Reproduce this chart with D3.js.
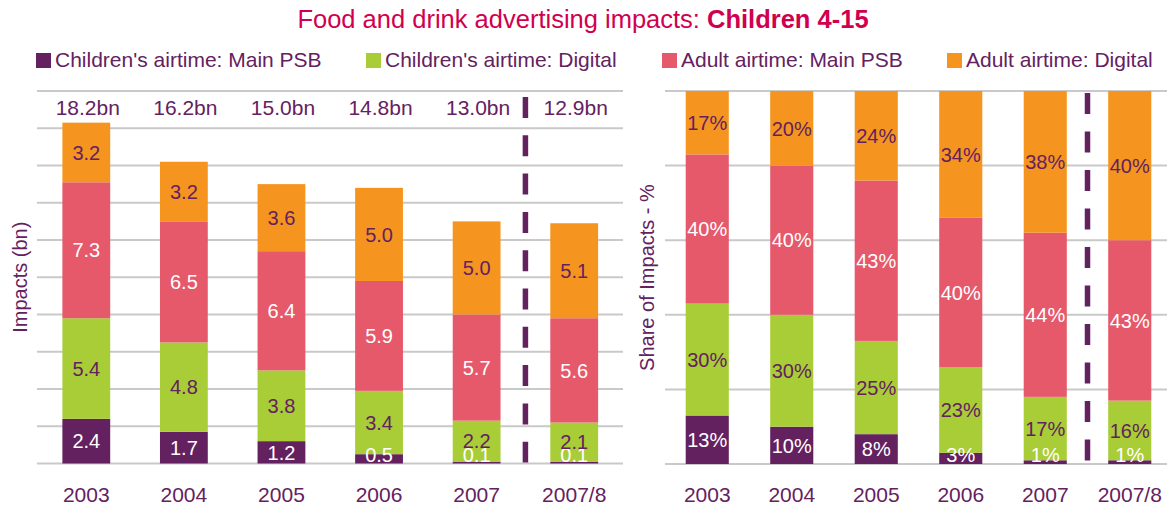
<!DOCTYPE html>
<html>
<head>
<meta charset="utf-8">
<script src="https://cdn.jsdelivr.net/npm/d3@7"></script>
<style>
  html, body { margin: 0; padding: 0; background: #fff; }
  svg { display: block; font-family: "Liberation Sans", Arial, sans-serif; }
</style>
</head>
<body>
<svg id="chart" width="1167" height="507"></svg>
<script>
// Years shown on both panels
const categories = ["2003", "2004", "2005", "2006", "2007", "2007/8"];

// Series names (bottom to top of each stack)
const seriesNames = [
  "Children's airtime: Main PSB",
  "Children's airtime: Digital",
  "Adult airtime: Main PSB",
  "Adult airtime: Digital"
];

// Impacts in billions
const childPSB     = [2.4, 1.7, 1.2, 0.5, 0.1, 0.1];
const childDigital = [5.4, 4.8, 3.8, 3.4, 2.2, 2.1];
const adultPSB     = [7.3, 6.5, 6.4, 5.9, 5.7, 5.6];
const adultDigital = [3.2, 3.2, 3.6, 5.0, 5.0, 5.1];
const totals       = [18.2, 16.2, 15.0, 14.8, 13.0, 12.9];

// Share of impacts, percent
const childPSBShare     = [13, 10, 8, 3, 1, 1];
const childDigitalShare = [30, 30, 25, 23, 17, 16];
const adultPSBShare     = [40, 40, 43, 40, 44, 43];
const adultDigitalShare = [17, 20, 24, 34, 38, 40];

// Axis tick values (gridlines)
const impactTicks = [0, 2, 4, 6, 8, 10, 12, 14, 16, 18, 20];
const shareTicks  = [0, 20, 40, 60, 80, 100];

const colors = ["#64215F", "#A8CD37", "#E5596B", "#F5951F"];
const labelColors = ["#ffffff", "#64215F", "#ffffff", "#64215F"];
const textPurple = "#64215F";
const titleRed = "#D1004F";

const svg = d3.select("#chart");

// Title
const title = svg.append("text")
  .attr("x", 583).attr("y", 28)
  .attr("text-anchor", "middle")
  .attr("font-size", 25.5)
  .attr("fill", titleRed);
title.append("tspan").text("Food and drink advertising impacts: ");
title.append("tspan").attr("font-weight", "bold").text("Children 4-15");

// Legend
const legendX = [36, 366, 662, 947];
const legend = svg.append("g");
seriesNames.forEach((name, i) => {
  legend.append("rect")
    .attr("x", legendX[i]).attr("y", 53)
    .attr("width", 15).attr("height", 15)
    .attr("fill", colors[i]);
  legend.append("text")
    .attr("x", legendX[i] + 19).attr("y", 67)
    .attr("font-size", 21)
    .attr("fill", textPurple)
    .text(name);
});

function buildRows(a, b, c, d) {
  return categories.map((cat, i) => ({ cat, v: [a[i], b[i], c[i], d[i]] }));
}

function drawPanel(opts) {
  const { rows, domainMax, ticks, xRange, gridRange, yRange, barFrac,
          fmt, yTitle, yTitleX, dashStart, dashArray } = opts;

  const g = svg.append("g");
  const x = d3.scaleBand().domain(categories).range(xRange).padding(0);
  const y = d3.scaleLinear().domain([0, domainMax]).range(yRange);
  const bw = x.bandwidth() * barFrac;

  // Gridlines
  g.selectAll("line.grid").data(ticks).join("line")
    .attr("class", "grid")
    .attr("x1", gridRange[0]).attr("x2", gridRange[1])
    .attr("y1", d => y(d)).attr("y2", d => y(d))
    .attr("stroke", "#C9C9C9").attr("stroke-width", 2);

  // Stacked bars
  const stackData = rows.map(r => {
    const o = { cat: r.cat };
    r.v.forEach((val, k) => o["s" + k] = val);
    return o;
  });
  const keys = [0, 1, 2, 3].map(k => "s" + k);
  const stacked = d3.stack().keys(keys)(stackData);

  stacked.forEach((layer, k) => {
    g.selectAll("rect.s" + k).data(layer).join("rect")
      .attr("class", "s" + k)
      .attr("x", d => x(d.data.cat) + (x.bandwidth() - bw) / 2)
      .attr("width", bw)
      .attr("y", d => y(d[1]))
      .attr("height", d => y(d[0]) - y(d[1]))
      .attr("fill", colors[k]);
  });

  // Segment labels
  const base = y(0);
  stacked.forEach((layer, k) => {
    g.selectAll("text.l" + k).data(layer).join("text")
      .attr("class", "l" + k)
      .attr("x", d => x(d.data.cat) + x.bandwidth() / 2)
      .attr("y", d => Math.min((y(d[0]) + y(d[1])) / 2, base - 9))
      .attr("dy", "0.36em")
      .attr("text-anchor", "middle")
      .attr("font-size", 20)
      .attr("fill", d => (d[1] - d[0]) < domainMax * 0.04 ? "#ffffff" : labelColors[k])
      .text(d => fmt(d[1] - d[0]));
  });

  // Category axis
  const xAxis = d3.axisBottom(x).tickSize(0).tickPadding(0);
  const ax = g.append("g").attr("transform", `translate(0,${base + 38})`).call(xAxis);
  ax.select(".domain").remove();
  ax.selectAll("text")
    .attr("font-size", 21)
    .attr("fill", textPurple)
    .attr("font-family", "Liberation Sans, Arial, sans-serif")
    .attr("dy", 0);

  // Vertical axis title
  g.append("text")
    .attr("transform", `translate(${yTitleX},${(yRange[0] + yRange[1]) / 2}) rotate(-90)`)
    .attr("text-anchor", "middle")
    .attr("dy", "0.36em")
    .attr("font-size", 20)
    .attr("fill", textPurple)
    .text(yTitle);

  // Dashed divider before the 2007/8 bar
  const dx = x("2007/8");
  g.append("line")
    .attr("x1", dx).attr("x2", dx)
    .attr("y1", dashStart).attr("y2", base - 1)
    .attr("stroke", textPurple).attr("stroke-width", 5.5)
    .attr("stroke-dasharray", dashArray);

  return { g, x, y };
}

// Left panel: impacts in billions
const left = drawPanel({
  rows: buildRows(childPSB, childDigital, adultPSB, adultDigital),
  domainMax: 20,
  ticks: impactTicks,
  xRange: [37.5, 623],
  gridRange: [37, 623],
  yRange: [463.5, 91],
  barFrac: 0.49,
  fmt: d3.format(".1f"),
  yTitle: "Impacts (bn)",
  yTitleX: 20,
  dashStart: 97,
  dashArray: "21,17.3"
});

// Totals above the left bars
left.g.selectAll("text.total").data(categories).join("text")
  .attr("class", "total")
  .attr("x", d => left.x(d) + left.x.bandwidth() / 2 + 1.5)
  .attr("y", 115)
  .attr("text-anchor", "middle")
  .attr("font-size", 21)
  .attr("fill", textPurple)
  .text((d, i) => d3.format(".1f")(totals[i]) + "bn");

// Right panel: share of impacts
drawPanel({
  rows: buildRows(childPSBShare, childDigitalShare, adultPSBShare, adultDigitalShare),
  domainMax: 100,
  ticks: shareTicks,
  xRange: [665, 1172],
  gridRange: [665, 1167],
  yRange: [464, 91],
  barFrac: 0.51,
  fmt: v => Math.round(v) + "%",
  yTitle: "Share of Impacts - %",
  yTitleX: 647,
  dashStart: 93,
  dashArray: "21,17.5"
});
</script>
</body>
</html>
